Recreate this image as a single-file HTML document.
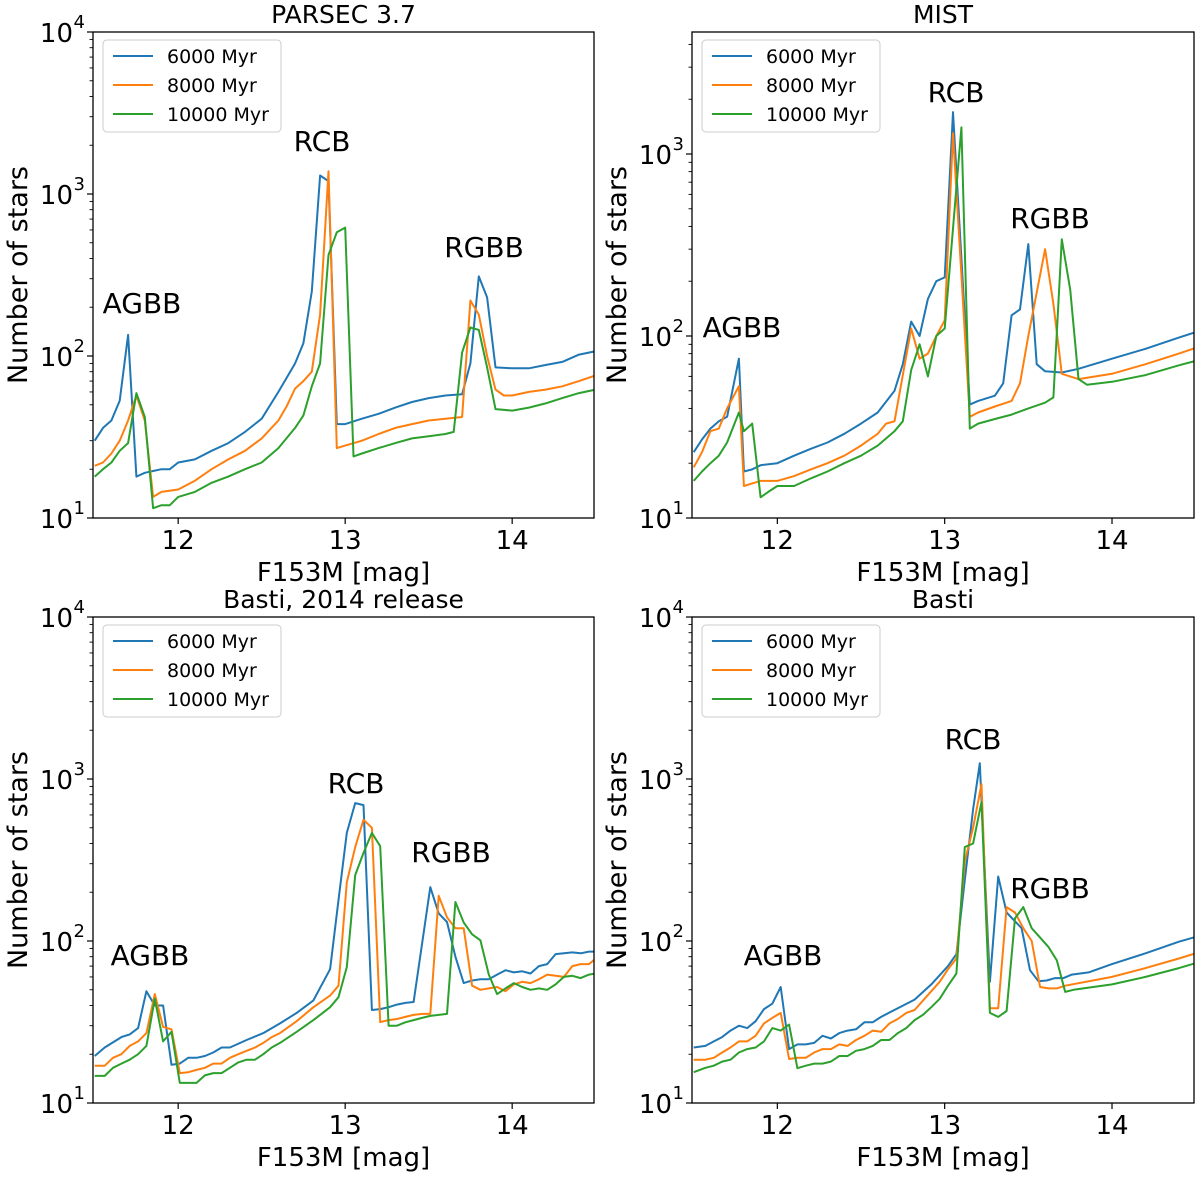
<!DOCTYPE html>
<html><head><meta charset="utf-8"><style>
body{margin:0;background:#fff}
svg text{font-family:"DejaVu Sans","Liberation Sans",sans-serif;fill:#000}
</style></head><body>
<svg id="fig" width="1200" height="1172" viewBox="0 0 1200 1172" xmlns="http://www.w3.org/2000/svg"></svg>
<script>
// ---- data: PARSEC 3.7 ----
const parsecX6000=[11.5,11.55,11.6,11.65,11.7,11.75,11.8,11.85,11.9,11.95,12,12.1,12.2,12.3,12.4,12.5,12.6,12.7,12.75,12.8,12.85,12.9,12.95,13.0,13.1,13.2,13.3,13.4,13.5,13.6,13.7,13.75,13.8,13.85,13.9,14.0,14.1,14.2,14.3,14.4,14.5];
const parsecY6000=[30,36,40,53,135,18,19,19.5,20,20,22,23,26,29,34,41,60,90,120,250,1300,1200,38,38,41,44,48,52,55,57,58,90,310,230,85,84,84,88,92,102,107];
const parsecX8000=[11.5,11.55,11.6,11.65,11.7,11.75,11.8,11.85,11.9,12,12.1,12.2,12.3,12.4,12.5,12.6,12.65,12.7,12.75,12.8,12.85,12.9,12.95,13.0,13.1,13.2,13.3,13.4,13.5,13.6,13.7,13.75,13.8,13.85,13.9,13.95,14.0,14.1,14.2,14.3,14.4,14.5];
const parsecY8000=[21,22,25,30,40,57,40,13.5,14.5,15,17,20,23,26,31,40,49,63,70,80,180,1380,27,28,30,33,36,38,40,41,42,220,180,100,62,57,57,60,62,65,70,76];
const parsecX10000=[11.5,11.55,11.6,11.65,11.7,11.75,11.8,11.85,11.9,11.95,12,12.1,12.2,12.3,12.4,12.5,12.6,12.7,12.75,12.8,12.85,12.9,12.95,13.0,13.05,13.1,13.2,13.3,13.4,13.5,13.6,13.65,13.7,13.75,13.8,13.85,13.9,14.0,14.1,14.2,14.3,14.4,14.5];
const parsecY10000=[18,20,22,26,29,59,42,11.5,12,12,13.5,14.5,16.5,18,20,22,27,36,43,65,90,420,580,620,24,25,27,29,31,32,33,34,105,150,145,85,47,46,48,51,55,59,62];
// ---- data: MIST ----
const mistX6000=[11.5,11.55,11.6,11.65,11.7,11.77,11.8,11.85,11.9,12,12.1,12.2,12.3,12.4,12.5,12.6,12.7,12.75,12.8,12.85,12.9,12.95,13.0,13.05,13.15,13.2,13.3,13.35,13.4,13.45,13.5,13.55,13.6,13.7,13.8,14.0,14.2,14.4,14.5];
const mistY6000=[23,27,31,34,36,75,18,18.5,19.5,20,22,24,26,29,33,38,50,70,120,100,160,200,210,1700,42,44,47,55,130,140,320,70,64,63,66,75,85,98,105];
const mistX8000=[11.5,11.55,11.6,11.65,11.7,11.77,11.8,11.85,11.9,12,12.1,12.2,12.3,12.4,12.5,12.6,12.65,12.7,12.8,12.85,12.9,12.95,13.0,13.05,13.15,13.2,13.3,13.4,13.45,13.5,13.6,13.65,13.7,13.8,14.0,14.2,14.4,14.5];
const mistY8000=[19,23,30,31,40,53,15,15.5,16,16,17,18.5,20,22,25,29,33,34,110,75,80,100,122,1300,36,38,41,44,55,100,300,150,62,58,62,70,80,86];
const mistX10000=[11.5,11.55,11.6,11.65,11.7,11.77,11.8,11.85,11.9,11.95,12,12.1,12.2,12.3,12.4,12.5,12.6,12.7,12.75,12.8,12.85,12.9,12.95,13.0,13.1,13.15,13.2,13.3,13.4,13.5,13.6,13.65,13.7,13.75,13.8,13.85,14.0,14.2,14.4,14.5];
const mistY10000=[16,18,20,22,26,38,30,33,13,14,15,15,16.5,18,20,22,25,30,34,65,90,60,100,110,1400,31,33,35,37,40,43,46,340,180,58,54,56,61,69,73];
// ---- data: Basti 2014 ----
const b14X6000=[11.5,11.56,11.66,11.71,11.76,11.81,11.86,11.91,11.96,12.01,12.06,12.11,12.16,12.21,12.26,12.31,12.41,12.51,12.61,12.71,12.81,12.91,12.96,13.01,13.06,13.11,13.16,13.21,13.26,13.31,13.36,13.41,13.51,13.56,13.61,13.66,13.71,13.76,13.81,13.86,13.91,13.96,14.01,14.06,14.11,14.16,14.21,14.26,14.36,14.41,14.46,14.5];
const b14Y6000=[19.5,22,25.5,26.5,29,49,40,40,17.2,17.5,19,19,19.5,20.5,22,22,24.5,27,31,36,43,67,179,465,710,690,37.5,38,39,40.5,41.5,42,215,148,131,80,55,57,58,58,62,66,64,65,63,70,72,83,85,84,86,86];
const b14X8000=[11.5,11.56,11.61,11.66,11.71,11.76,11.81,11.86,11.91,11.96,12.01,12.06,12.11,12.16,12.21,12.26,12.31,12.36,12.41,12.46,12.51,12.56,12.61,12.71,12.81,12.91,12.96,13.01,13.06,13.11,13.16,13.21,13.26,13.31,13.36,13.41,13.46,13.51,13.56,13.61,13.66,13.71,13.76,13.81,13.86,13.91,13.96,14.01,14.06,14.11,14.16,14.21,14.26,14.31,14.36,14.41,14.46,14.5];
const b14Y8000=[17,17,19,20,22.5,24,27,47,29.5,28.5,15.3,15.5,16,16.5,17.5,17.5,19,20,21,22,23.5,25.5,27,32,39,46,53,230,380,560,500,31.6,32.5,33,34,35,35.5,35.5,190,140,120,120,53,50,51,52,49,54,56,55,58,62,61,60,70,72,72,78];
const b14X10000=[11.5,11.56,11.61,11.66,11.71,11.76,11.81,11.86,11.91,11.96,12.01,12.06,12.11,12.16,12.21,12.26,12.31,12.36,12.41,12.46,12.51,12.56,12.61,12.71,12.81,12.91,12.96,13.01,13.06,13.11,13.16,13.21,13.26,13.31,13.36,13.41,13.46,13.51,13.56,13.61,13.66,13.71,13.76,13.81,13.86,13.91,13.96,14.01,14.06,14.11,14.16,14.21,14.26,14.31,14.36,14.41,14.46,14.5];
const b14Y10000=[14.7,14.7,16.5,17.5,18.5,20,22.5,44,24,27.5,13.3,13.3,13.3,14.8,15.3,15.3,16.5,17.8,18.5,18.5,20,22,23.5,27.5,32.5,39,45,69,255,350,465,385,30,30,31.5,32.5,33.5,34.5,35,35.5,174,130,110,101,62,47,51,55,52,50,51,50,54,60,61,59,62,63];
// ---- data: Basti ----
const bX6000=[11.5,11.57,11.62,11.67,11.72,11.77,11.82,11.87,11.92,11.97,12.02,12.07,12.12,12.17,12.22,12.27,12.32,12.37,12.42,12.47,12.52,12.57,12.62,12.72,12.82,12.92,13.02,13.07,13.12,13.17,13.21,13.27,13.32,13.37,13.46,13.51,13.56,13.61,13.66,13.71,13.76,13.86,14.0,14.2,14.4,14.5];
const bY6000=[22,22.5,24,25.5,28,30,29,32,38,41,52,21.5,23,23,23.5,26,25,27,28,28.5,31.5,31.5,34,38.5,43.5,54,70,83,238,650,1250,56,250,150,120,66,56.5,57,59,59,62,64,72,84,99,106];
const bX8000=[11.5,11.57,11.62,11.67,11.72,11.77,11.82,11.87,11.92,11.97,12.02,12.07,12.12,12.17,12.22,12.27,12.32,12.37,12.42,12.47,12.52,12.57,12.62,12.67,12.72,12.77,12.82,12.92,12.97,13.02,13.07,13.12,13.17,13.22,13.27,13.32,13.37,13.42,13.47,13.52,13.57,13.62,13.67,13.72,14.0,14.2,14.4,14.5];
const bY8000=[18.5,18.5,19,20.5,22,24,24,26,31,33.5,36,18.7,19,19,20.5,21.5,21.5,23,22.5,24.5,26,28,27.5,31,33,36,37.5,49,56,67,78,310,500,930,38.5,38.5,162,150,120,100,52,51,51,53,60,68,78,84];
const bX10000=[11.5,11.57,11.62,11.67,11.72,11.77,11.82,11.87,11.92,11.97,12.02,12.07,12.12,12.17,12.22,12.27,12.32,12.37,12.42,12.47,12.52,12.57,12.62,12.67,12.72,12.77,12.82,12.87,12.92,12.97,13.02,13.07,13.12,13.17,13.22,13.27,13.32,13.37,13.42,13.47,13.52,13.57,13.62,13.67,13.72,13.77,14.0,14.2,14.4,14.5];
const bY10000=[15.5,16.5,17,18,18.5,20.5,21.5,22,24,29,28,30.5,16.4,17,17.5,17.5,18,19.5,19.5,21,21.5,22.5,24.5,24.5,27,29,32.5,35,39,44,53,63,380,400,720,36,34,37,138,162,120,105,92,76,48.5,50,54,60,68,73];
const seriesLabels=["6000 Myr","8000 Myr","10000 Myr"];
const seriesColors=["#1f77b4","#ff7f0e","#2ca02c"];
const xTicks=[12,13,14];

const NS="http://www.w3.org/2000/svg";
const svg=document.getElementById('fig');
function mk(tag,attrs,parent){const e=document.createElementNS(NS,tag);for(const k in attrs)e.setAttribute(k,attrs[k]);(parent||svg).appendChild(e);return e;}

const panels=[
 {id:'parsec',title:'PARSEC 3.7',L:93,T:32,R:594,B:518,ymax:4,xs:[parsecX6000,parsecX8000,parsecX10000],ys:[parsecY6000,parsecY8000,parsecY10000],
  ann:[['AGBB',142,313],['RCB',322,151],['RGBB',484,257]]},
 {id:'mist',title:'MIST',L:692,T:32,R:1194,B:518,ymax:1+486/182,xs:[mistX6000,mistX8000,mistX10000],ys:[mistY6000,mistY8000,mistY10000],
  ann:[['AGBB',742,337],['RCB',956,102],['RGBB',1050,228]]},
 {id:'basti2014',title:'Basti, 2014 release',L:93,T:617,R:594,B:1103,ymax:4,xs:[b14X6000,b14X8000,b14X10000],ys:[b14Y6000,b14Y8000,b14Y10000],
  ann:[['AGBB',150,965],['RCB',356,793],['RGBB',451,862]]},
 {id:'basti',title:'Basti',L:692,T:617,R:1194,B:1103,ymax:4,xs:[bX6000,bX8000,bX10000],ys:[bY6000,bY8000,bY10000],
  ann:[['AGBB',783,965],['RCB',973,749],['RGBB',1050,898]]}
];

panels.forEach(p=>{
  const g=mk('g',{});
  
  
  const xMin=11.49,xMax=14.49;
  const xS=m=>p.L+(m-xMin)/(xMax-xMin)*(p.R-p.L);
  const yS=v=>p.B-(Math.log10(v)-1)/(p.ymax-1)*(p.B-p.T);
  const cid='clip-'+p.id;
  const cp=mk('clipPath',{id:cid},g);
  mk('rect',{x:p.L,y:p.T,width:p.R-p.L,height:p.B-p.T},cp);
  for(let s=0;s<3;s++){
    const xs=p.xs[s],ys=p.ys[s];
    const d=xs.map((x,i)=>(i?'L':'M')+xS(x).toFixed(1)+','+yS(ys[i]).toFixed(1)).join(' ');
    const path=mk('path',{d:d,fill:'none',stroke:seriesColors[s],'stroke-width':2,'stroke-linejoin':'round','clip-path':'url(#'+cid+')'},g);
    
    
  }
  const fr=mk('rect',{x:p.L,y:p.T,width:p.R-p.L,height:p.B-p.T,fill:'none',stroke:'#000','stroke-width':1.3},g);
  
  
  xTicks.forEach(t=>{
    const x=xS(t);
    mk('line',{x1:x,x2:x,y1:p.B,y2:p.B+6,stroke:'#000','stroke-width':1.2},g);
    const tx=mk('text',{x:x,y:p.B+31,'font-size':26,'text-anchor':'middle'},g);
    tx.textContent=t;
    
    
  });
  for(let e=1;e<=Math.floor(p.ymax);e++){
    const y=yS(Math.pow(10,e));
    mk('line',{x1:p.L-6,x2:p.L,y1:y,y2:y,stroke:'#000','stroke-width':1.2},g);
    const tx=mk('text',{x:p.L-20,y:y+10,'font-size':26,'text-anchor':'end'},g);
    tx.textContent='10';
    
    
    const sp=mk('text',{x:p.L-8,y:y-4,'font-size':18,'text-anchor':'end'},g);
    sp.textContent=e;
  }
  for(let e=1;e<p.ymax;e++){
    for(let m=2;m<=9;m++){
      const v=m*Math.pow(10,e);
      if(Math.log10(v)>p.ymax)break;
      const y=yS(v);
      mk('line',{x1:p.L-3.5,x2:p.L,y1:y,y2:y,stroke:'#000','stroke-width':0.9},g);
    }
  }
  const ti=mk('text',{x:(p.L+p.R)/2,y:p.T-9,'font-size':25,'text-anchor':'middle'},g);
  ti.textContent=p.title;
  
  
  const xl=mk('text',{x:(p.L+p.R)/2,y:p.B+63,'font-size':26,'text-anchor':'middle'},g);
  xl.textContent='F153M [mag]';
  
  
  const yx=p.L-66, yy=(p.T+p.B)/2;
  const yl=mk('text',{x:yx,y:yy,'font-size':27,'text-anchor':'middle',transform:'rotate(-90 '+yx+' '+yy+')'},g);
  yl.textContent='Number of stars';
  
  
  p.ann.forEach(a=>{
    const at=mk('text',{x:a[1],y:a[2],'font-size':28,'text-anchor':'middle'},g);
    at.textContent=a[0];
    
    
  });
  const lg=mk('g',{},g);
  
  
  mk('rect',{x:p.L+10,y:p.T+8,width:178,height:92,rx:4,fill:'#fff','fill-opacity':0.8,stroke:'#ccc','stroke-width':1},lg);
  for(let s=0;s<3;s++){
    const y=p.T+24+s*29;
    const ll=mk('line',{x1:p.L+20,x2:p.L+60,y1:y,y2:y,stroke:seriesColors[s],'stroke-width':2},lg);
    
    
    const lt=mk('text',{x:p.L+74,y:y+7,'font-size':19},lg);
    lt.textContent=seriesLabels[s];
    
    
  }
});
</script>
</body></html>
